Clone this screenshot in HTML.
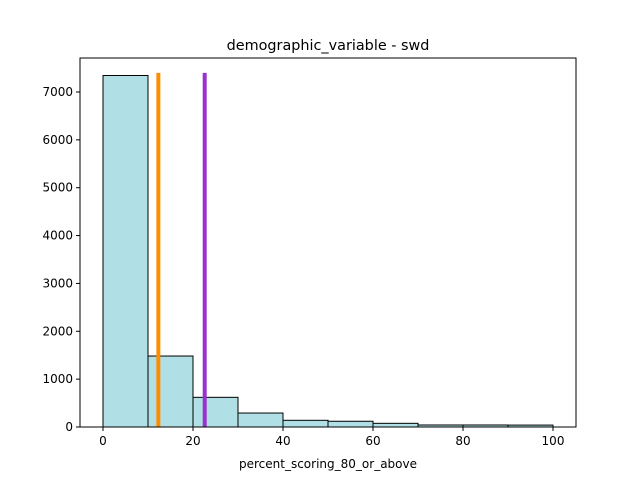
<!DOCTYPE html>
<html><head><meta charset="utf-8"><style>
body{margin:0;background:#fff;}
svg{display:block;font-family:"DejaVu Sans","Liberation Sans",sans-serif;}
</style></head><body>
<svg id="chart" width="640" height="480"></svg>
<script>
const binEdges=[0,10,20,30,40,50,60,70,80,90,100];
const counts=[7345,1483,620,292,140,120,77,42,42,40];
const xTicks=[0,20,40,60,80,100];
const yTicks=[0,1000,2000,3000,4000,5000,6000,7000];
const vlineValues=[12.3,22.6];
const vlineColors=["#ff8c00","#9932cc"];
const vlineTop=7400;

const L=80,R=576,T=58,B=427;
const xs=v=>103+(v-0)*4.5;
const ys=v=>B-v*(335/7000);
const NS="http://www.w3.org/2000/svg";
const svg=document.getElementById('chart');
function mk(tag,attrs,parent){const e=document.createElementNS(NS,tag);for(const k in attrs)e.setAttribute(k,attrs[k]);(parent||svg).appendChild(e);return e;}

for(let i=0;i<counts.length;i++){
  const x0=xs(binEdges[i]),x1=xs(binEdges[i+1]),y=ys(counts[i]);
  const r=mk('rect',{x:x0,y:y,width:x1-x0,height:B-y,fill:'#b0dfe5',stroke:'#000','stroke-width':1});
  
  
}
for(let i=0;i<vlineValues.length;i++){
  const l=mk('line',{x1:xs(vlineValues[i]),x2:xs(vlineValues[i]),y1:ys(vlineTop),y2:B,stroke:vlineColors[i],'stroke-width':4});
  
  
}
const frame=mk('rect',{x:L,y:T,width:R-L,height:B-T,fill:'none',stroke:'#000','stroke-width':1});



xTicks.forEach(v=>{
  const x=xs(v);
  mk('line',{x1:x,x2:x,y1:B,y2:B+4,stroke:'#000'});
  const t=mk('text',{x:x,y:B+18,'text-anchor':'middle','font-size':'12'});
  t.textContent=v;
  
  
});
yTicks.forEach(v=>{
  const y=ys(v);
  mk('line',{x1:L-4,x2:L,y1:y,y2:y,stroke:'#000'});
  const t=mk('text',{x:L-7,y:y+4,'text-anchor':'end','font-size':'12'});
  t.textContent=v;
  
  
});
const xt=mk('text',{x:328,y:468,'text-anchor':'middle','font-size':'12'});
xt.textContent='percent_scoring_80_or_above';


const title=mk('text',{x:328,y:50,'text-anchor':'middle','font-size':'14.4'});
title.textContent='demographic_variable - swd';


</script>
</body></html>
